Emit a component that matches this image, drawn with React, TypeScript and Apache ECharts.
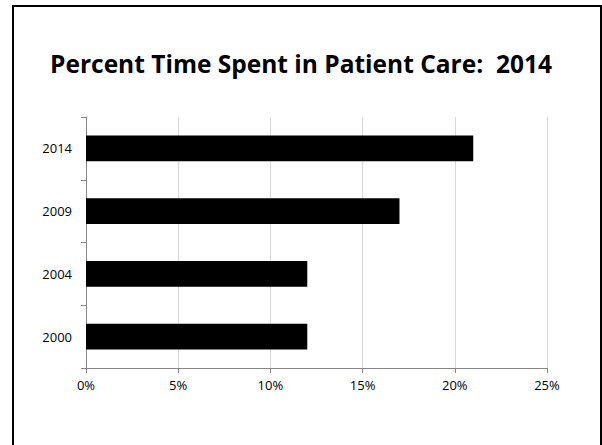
import React, { useEffect, useRef } from "react";
import * as echarts from "echarts";

const titleText = "Percent Time Spent in Patient Care:  2014";
const categories = ["2000", "2004", "2009", "2014"];
const values = [12, 12, 17, 21];
const xMin = 0;
const xMax = 25;
const xInterval = 5;

export default function App() {
  const ref = useRef<HTMLDivElement>(null);
  useEffect(() => {
    if (!ref.current) return;
    const chart = echarts.init(ref.current, null, { renderer: "svg" });
    chart.setOption({
      animation: false,
      backgroundColor: "#ffffff",
      title: {
        text: titleText,
        left: "center",
        top: 46,
        textStyle: {
          fontFamily: "Open Sans",
          fontWeight: "bold",
          fontSize: 24.5,
          color: "#000000",
        },
      },
      graphic: [
        {
          type: "rect",
          shape: { x: 13, y: 6, width: 588, height: 480 },
          style: { fill: "none", stroke: "#000000", lineWidth: 2 },
          silent: true,
        },
      ],
      grid: { left: 86, top: 117, width: 461, height: 251, containLabel: false },
      xAxis: {
        type: "value",
        min: xMin,
        max: xMax,
        interval: xInterval,
        axisLine: { show: true, lineStyle: { color: "#868686", width: 1 } },
        axisTick: { show: true, length: 5, lineStyle: { color: "#868686" } },
        splitLine: { show: true, lineStyle: { color: "#d9d9d9", width: 1 } },
        axisLabel: {
          formatter: "{value}%",
          color: "#000000",
          fontFamily: "Open Sans",
          fontSize: 13,
          margin: 10,
        },
      },
      yAxis: {
        type: "category",
        data: categories,
        axisLine: { show: true, lineStyle: { color: "#868686", width: 1 } },
        axisTick: { show: true, length: 5, lineStyle: { color: "#868686" } },
        splitLine: { show: false },
        axisLabel: {
          color: "#000000",
          fontFamily: "Open Sans",
          fontSize: 13,
          margin: 14,
        },
      },
      series: [
        {
          type: "bar",
          data: values,
          barWidth: "41%",
          itemStyle: { color: "#000000" },
        },
      ],
    });
    return () => chart.dispose();
  }, []);
  return (
    <div
      ref={ref}
      style={{ position: "absolute", left: 0, top: 0, width: 602, height: 445 }}
    />
  );
}
